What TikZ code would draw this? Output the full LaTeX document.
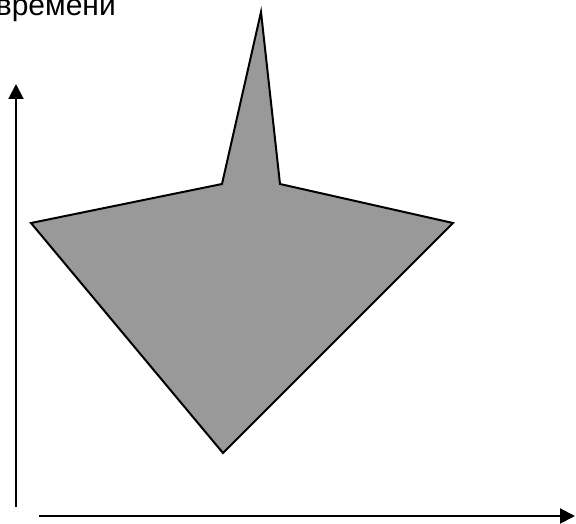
\documentclass[tikz,border=0pt]{standalone}
\usepackage{fontspec}
\setmainfont{Liberation Sans}
\usetikzlibrary{arrows.meta}
\tikzset{
  axis/.style={line width=2pt, -{Triangle[length=15pt,width=15pt]}},
  figure/.style={draw=black, line width=2pt, fill=black!40, line join=miter}
}
\begin{document}
\begin{tikzpicture}[x=1pt, y=-1pt]
  \useasboundingbox (0,0) rectangle (576,524);

  % ---- подпись (обрезана слева) ----
  \node[font=\fontsize{30}{34}\selectfont, anchor=base east, inner sep=0pt]
    (title) at (116,16) {времени};

  % ---- оси ----
  \coordinate (yfrom) at (16,507);
  \coordinate (yto)   at (16,84);
  \coordinate (xfrom) at (39,516);
  \coordinate (xto)   at (575,516);
  \draw[axis] (yfrom) -- (yto);
  \draw[axis] (xfrom) -- (xto);

  % ---- фигура ----
  \coordinate (peak)   at (261,12);
  \coordinate (rshld)  at (280,184);
  \coordinate (rtip)   at (453,223);
  \coordinate (bottom) at (223,453);
  \coordinate (ltip)   at (31,223);
  \coordinate (lshld)  at (222,184);
  \draw[figure] (peak) -- (rshld) -- (rtip) -- (bottom) -- (ltip) -- (lshld) -- cycle;
\end{tikzpicture}
\end{document}
